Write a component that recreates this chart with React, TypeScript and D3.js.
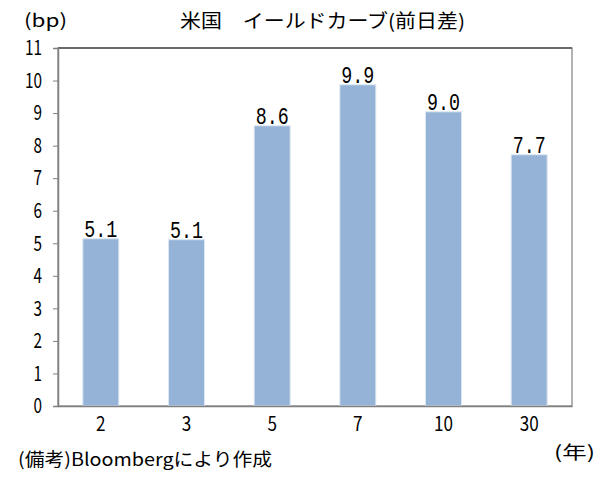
import React, { useEffect, useRef } from 'react';
import * as d3 from 'd3';

const maturities = ['2', '3', '5', '7', '10', '30'];
const changes = [5.14, 5.11, 8.61, 9.87, 9.04, 7.72];
const yTicks = [0, 1, 2, 3, 4, 5, 6, 7, 8, 9, 10, 11];

const App = () => {
    const ref = useRef<SVGSVGElement | null>(null);

    useEffect(() => {
        if (!ref.current) return;
        const svg = d3.select(ref.current);
        svg.selectAll('*').remove();

        const left = 58, right = 572, top = 48, bottom = 406;
        const font = '"Noto Sans CJK JP", "Noto Sans", sans-serif';

        const x = d3.scaleBand<string>().domain(maturities).range([left, right]).paddingInner(0.58).paddingOuter(0.29);
        const y = d3.scaleLinear().domain([0, 11]).range([bottom, top]);

        // plot frame
        svg.append('rect')
            .attr('x', left).attr('y', top)
            .attr('width', right - left).attr('height', bottom - top)
            .attr('fill', 'none').attr('stroke', '#808080').attr('stroke-width', 1.2);
        svg.append('line')
            .attr('x1', left).attr('x2', right).attr('y1', top).attr('y2', top)
            .attr('stroke', '#222').attr('stroke-width', 1.2);

        // bars
        svg.selectAll('rect.bar')
            .data(changes)
            .enter()
            .append('rect')
            .attr('class', 'bar')
            .attr('x', (_d, i) => x(maturities[i]) as number)
            .attr('y', d => y(d))
            .attr('width', x.bandwidth())
            .attr('height', d => y(0) - y(d))
            .attr('fill', '#95b3d7')
            .attr('stroke', '#dce6f2')
            .attr('stroke-width', 1);

        // value labels
        svg.selectAll('text.val')
            .data(changes)
            .enter()
            .append('text')
            .attr('x', (_d, i) => (x(maturities[i]) as number) + x.bandwidth() / 2)
            .attr('y', d => y(d) - 2)
            .attr('text-anchor', 'middle')
            .attr('font-family', '"Liberation Mono", monospace')
            .attr('font-size', 23)
            .attr('textLength', 33)
            .attr('lengthAdjust', 'spacingAndGlyphs')
            .text(d => d.toFixed(1));

        // y axis
        const ya = svg.append('g').attr('transform', `translate(${left},0)`)
            .call(d3.axisLeft(y).tickValues(yTicks).tickSize(5).tickPadding(11));
        ya.select('.domain').attr('stroke', '#808080').attr('stroke-width', 1.5);
        ya.selectAll('.tick line').attr('stroke', '#808080');
        ya.selectAll<SVGTextElement, number>('.tick text')
            .attr('font-family', font).attr('font-size', 21).attr('fill', '#000')
            .attr('textLength', d => String(d).length * 8.5)
            .attr('lengthAdjust', 'spacingAndGlyphs');

        // x axis
        const xa = svg.append('g').attr('transform', `translate(0,${bottom})`)
            .call(d3.axisBottom(x).tickSize(0).tickPadding(11));
        xa.select('.domain').attr('stroke', '#808080').attr('stroke-width', 1.5);
        xa.selectAll<SVGTextElement, string>('.tick text')
            .attr('font-family', font).attr('font-size', 20).attr('fill', '#000')
            .attr('textLength', d => d.length * 9.5)
            .attr('lengthAdjust', 'spacingAndGlyphs');

        svg.append('text').attr('x', 180).attr('y', 28)
            .attr('font-family', font).attr('font-size', 19)
            .attr('textLength', 285).attr('lengthAdjust', 'spacingAndGlyphs')
            .text('米国　イールドカーブ(前日差)');
        svg.append('text').attr('x', 24).attr('y', 27)
            .attr('font-family', font).attr('font-size', 18)
            .attr('textLength', 43).attr('lengthAdjust', 'spacingAndGlyphs')
            .text('(bp)');
        svg.append('text').attr('x', 554).attr('y', 459)
            .attr('font-family', font).attr('font-size', 18)
            .attr('textLength', 41).attr('lengthAdjust', 'spacingAndGlyphs')
            .text('(年)');
        svg.append('text').attr('x', 18).attr('y', 466)
            .attr('font-family', font).attr('font-size', 18)
            .attr('textLength', 254).attr('lengthAdjust', 'spacingAndGlyphs')
            .text('(備考)Bloombergにより作成');
    }, []);

    return (
        <svg ref={ref} width={613} height={480} style={{ position: 'absolute', left: 0, top: 0, background: '#fff' }} />
    );
};

export default App;
